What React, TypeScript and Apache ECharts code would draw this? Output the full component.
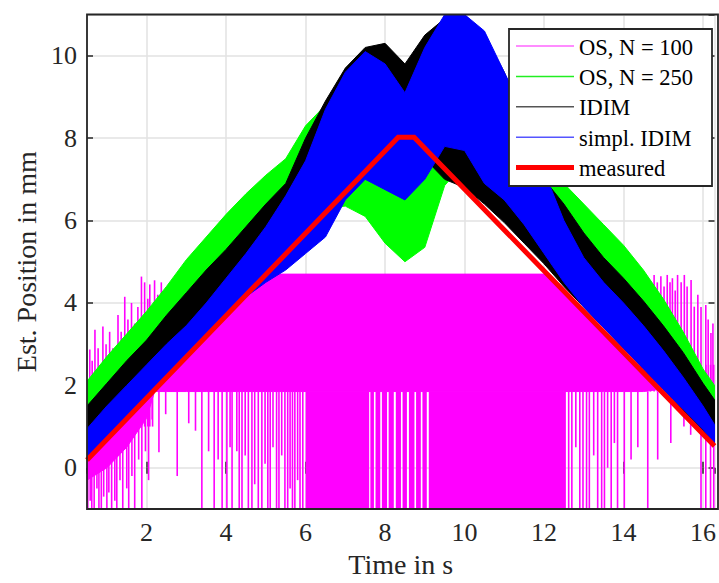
import React, { useEffect, useRef } from "react";
import * as echarts from "echarts";

// ---- sample times for the band envelopes (s)
const bandT = [0.5, 1, 1.5, 2, 2.5, 3, 3.5, 4, 4.5, 5, 5.5, 6, 6.5, 7, 7.5, 8, 8.5, 9, 9.5, 10, 10.5, 11, 11.5, 12, 12.5, 13, 13.5, 14, 14.5, 15, 15.5, 16, 16.29];

// OS, N = 250 (green) envelope
const os250Hi = [2.1, 2.7, 3.25, 3.8, 4.4, 5.05, 5.6, 6.15, 6.65, 7.1, 7.5, 8.3, 8.8, 9.2, 9.3, 9.0, 8.8, 9.0, 9.3, 9.2, 8.8, 8.4, 7.9, 7.4, 6.9, 6.4, 5.9, 5.4, 4.8, 4.1, 3.3, 2.4, 2.0];
const os250Lo = [0.95, 1.5, 2.0, 2.5, 3.0, 3.5, 4.0, 4.5, 5.0, 5.5, 6.0, 6.4, 6.3, 6.35, 6.1, 5.45, 5.0, 5.35, 6.85, 7.4, 7.2, 6.7, 6.2, 5.7, 5.2, 4.7, 4.2, 3.7, 3.2, 2.7, 2.2, 1.6, 1.3];

// IDIM (black) envelope
const idimHi = [1.5, 2.05, 2.6, 3.1, 3.7, 4.25, 4.8, 5.3, 5.85, 6.4, 6.9, 8.0, 8.9, 9.7, 10.2, 10.3, 9.8, 10.5, 10.9, 11.0, 10.5, 9.6, 8.4, 7.0, 6.4, 5.7, 5.1, 4.6, 4.05, 3.45, 2.8, 2.05, 1.65];
const idimLo = [0.25, 0.8, 1.3, 1.8, 2.3, 2.8, 3.3, 3.8, 4.3, 4.8, 5.3, 5.8, 6.3, 6.7, 7.2, 7.5, 7.6, 7.5, 7.0, 6.8, 6.4, 5.95, 5.45, 4.95, 4.4, 3.9, 3.4, 2.9, 2.4, 1.9, 1.4, 0.9, 0.58];

// simpl. IDIM (blue) envelope
const simplHi = [0.95, 1.5, 2.0, 2.5, 3.0, 3.45, 4.0, 4.6, 5.2, 5.85, 6.6, 7.45, 8.7, 9.6, 10.1, 9.8, 9.1, 10.2, 11.0, 11.0, 10.6, 9.6, 8.6, 7.2, 6.0, 5.1, 4.5, 4.0, 3.45, 2.85, 2.2, 1.5, 1.05];
const simplLo = [0.2, 0.7, 1.2, 1.7, 2.2, 2.7, 3.2, 3.7, 4.15, 4.5, 4.8, 5.2, 5.6, 6.5, 7.0, 6.75, 6.5, 7.0, 7.8, 7.7, 6.9, 6.5, 5.9, 5.2, 4.5, 3.9, 3.4, 2.9, 2.4, 1.9, 1.42, 0.93, 0.6];

// measured (red)
const measuredT = [0.5, 8.33, 8.73, 16.29];
const measuredV = [0.19, 8.02, 8.02, 0.53];

// OS, N = 100 (magenta): solid core
const os100CoreT = [0.5, 1.0, 1.5, 2.0, 2.2, 2.5, 3.0, 3.5, 4.0, 4.5, 5.0, 5.2, 12.1, 12.5, 13.0, 13.5, 14.0, 14.5, 14.9];
const os100CoreLo = [-0.3, 0.0, 0.5, 1.2, 1.85, 1.85, 1.85, 1.85, 1.85, 1.85, 1.85, 1.85, 1.85, 1.85, 1.85, 1.85, 1.85, 1.85, 1.9];
const os100CoreHi = [0.5, 1.0, 1.5, 2.0, 2.2, 2.4, 2.8, 3.3, 3.8, 4.3, 4.7, 4.7, 4.7, 4.35, 3.85, 3.35, 2.85, 2.35, 1.95];
// dense downward blocks (solid down to the bottom)
const os100DenseFrom = [6.0, 7.63, 7.76, 7.92, 8.09, 8.27, 8.44, 8.6, 8.78, 8.94, 9.1];
const os100DenseTo = [7.6, 7.72, 7.88, 8.05, 8.22, 8.4, 8.55, 8.74, 8.9, 9.05, 12.55];
const os100DenseTop = [1.85, 1.85, 1.85, 1.85, 1.85, 1.85, 1.85, 1.85, 1.85, 1.85, 1.85];
// individual spikes
const os100SpikeT = [
  0.57, 0.63, 0.7, 0.78, 0.9, 0.98, 1.07, 1.15, 1.28, 1.36, 1.45, 1.53, 1.62, 1.7, 1.78, 1.87, 1.95, 2.03, 2.08, 2.15, 2.2, 2.28, 2.37, 2.45, 2.49, 2.56, 2.62, 2.7,
  14.45, 14.6, 14.68, 14.77, 14.85, 14.94, 15.02, 15.1, 15.17, 15.23, 15.3, 15.36, 15.45, 15.53, 15.6, 15.7, 15.78, 15.87, 15.95, 16.07, 16.13, 16.2, 16.25,
  0.52, 0.58, 0.62, 0.68, 0.75, 0.8, 0.86, 0.92, 1.0, 1.05, 1.12, 1.2, 1.25, 1.33, 1.4, 1.5, 1.55, 1.63, 1.7, 1.8, 1.88, 1.97, 2.05,
  2.14, 2.31, 2.48, 2.77, 3.06, 3.23, 3.39, 3.56, 3.7, 3.8, 3.9, 4.02, 4.1, 4.15, 4.27, 4.33, 4.4, 4.48, 4.56, 4.65, 4.72, 4.81, 4.9, 4.98, 5.05, 5.11, 5.18, 5.27, 5.33, 5.4, 5.48, 5.55, 5.61, 5.67, 5.73, 5.8, 5.86, 5.93,
  12.62, 12.7, 12.8, 12.9, 12.98, 13.07, 13.14, 13.25, 13.35, 13.45, 13.52, 13.6, 13.69, 13.77, 13.85, 14.02, 14.19, 14.36, 14.61, 14.86, 15.19, 15.52, 15.69, 15.95, 16.07, 16.19, 16.27
];
const os100SpikeFrom = [
  1.0, 1.0, 1.0, 1.0, 1.0, 1.0, 1.0, 1.0, 1.0, 1.0, 1.0, 1.0, 1.0, 1.0, 1.0, 1.0, 1.0, 1.0, 1.0, 1.0, 1.85, 1.85, 1.85, 1.85, 1.85, 1.85, 1.85, 1.85,
  1.85, 1.85, 1.85, 1.85, 1.85, 1.85, 1.85, 1.85, 1.85, 1.85, 1.85, 1.85, 1.85, 1.85, 1.85, 1.85, 1.85, 1.85, 1.85, 1.85, 1.85, 1.85, 1.85,
  0.0, 0.0, 0.0, 0.2, 0.2, 0.2, 0.3, 0.3, 0.4, 0.4, 0.5, 0.6, 0.6, 0.7, 0.8, 0.9, 1.0, 1.0, 1.1, 1.2, 1.3, 1.4, 1.5,
  1.85, 1.85, 1.85, 1.85, 1.85, 1.85, 1.85, 1.85, 1.85, 1.85, 1.85, 1.85, 1.85, 1.85, 1.85, 1.85, 1.85, 1.85, 1.85, 1.85, 1.85, 1.85, 1.85, 1.85, 1.85, 1.85, 1.85, 1.85, 1.85, 1.85, 1.85, 1.85, 1.85, 1.85, 1.85, 1.85, 1.85, 1.85,
  1.85, 1.85, 1.85, 1.85, 1.85, 1.85, 1.85, 1.85, 1.85, 1.85, 1.85, 1.85, 1.85, 1.85, 1.85, 1.85, 1.85, 1.85, 1.85, 1.85, 2.5, 2.5, 2.5, 2.5, 2.5, 2.5, 2.5
];
const os100SpikeTo = [
  2.87, 2.6, 3.35, 2.9, 3.43, 3.0, 3.3, 2.9, 3.71, 3.3, 4.15, 3.6, 4.0, 3.5, 3.9, 4.64, 4.5, 4.1, 4.45, 3.9, 4.55, 4.2, 4.5, 4.0, 4.2, 4.3, 4.5, 4.4,
  4.3, 4.56, 4.4, 4.68, 4.5, 4.65, 4.4, 4.68, 4.5, 4.6, 4.3, 4.68, 4.5, 4.68, 4.4, 4.56, 3.91, 4.2, 3.9, 3.95, 3.6, 3.27, 3.5,
  -1, -0.8, -1, -1, -0.5, -1, -1, -0.7, -1, -0.6, -1, -0.8, -1, -0.3, -1, -0.5, -1, -0.2, -1, 0.2, -1, 0.4, -0.3,
  1.17, 0.38, 1.3, -0.2, 1.08, 0.9, -1, 0.4, -1, 0.2, -1, -1, 0.5, -1, 0.4, -1, -1, 0.3, -1, -1, -0.4, -1, -1, 0.1, -1, -1, 0.5, -1, -1, 0.3, -1, -1, -0.5, -1, -1, -0.3, -1, -1,
  -1, -1, 0.5, -1, -1, -1, -1, 0.3, -1, -1, -1, 0.0, -1, 0.6, -1, -1, 0.2, 0.5, -1, 0.2, 0.6, 1.0, 0.8, -1, -1, -1, -1
];

const FONT = '"Liberation Serif", "Times New Roman", serif';
const X_MIN = 0.5, X_MAX = 16.29, Y_MIN = -1, Y_MAX = 11;
const GRID = { left: 87, right: 1, top: 14.5, bottom: 74 };

function bandSeries(name: string, color: string, t: number[], lo: number[], hi: number[]) {
  return {
    type: "custom",
    name,
    clip: true,
    silent: true,
    data: [[t[0], lo[0]]],
    renderItem: (_p: any, api: any) => {
      const pts: number[][] = [];
      for (let i = 0; i < t.length; i++) pts.push(api.coord([t[i], hi[i]]));
      for (let i = t.length - 1; i >= 0; i--) pts.push(api.coord([t[i], lo[i]]));
      return { type: "polygon", shape: { points: pts }, style: { fill: color, stroke: color, lineWidth: 1 } };
    },
  };
}

export default function App() {
  const ref = useRef<HTMLDivElement>(null);
  useEffect(() => {
    if (!ref.current) return;
    const chart = echarts.init(ref.current, undefined, { renderer: "svg" });
    const denseData = os100DenseFrom.map((f, i) => [f, os100DenseTo[i], os100DenseTop[i]]);
    const spikeData = os100SpikeT.map((t, i) => [t, os100SpikeFrom[i], os100SpikeTo[i]]);
    const legendRows = [
      { label: "OS, N = 100", color: "#ff66ff", w: 1.5 },
      { label: "OS, N = 250", color: "#22ee22", w: 1.5 },
      { label: "IDIM", color: "#555555", w: 1.5 },
      { label: "simpl. IDIM", color: "#5555ff", w: 1.5 },
      { label: "measured", color: "#ff0000", w: 5 },
    ];
    const legendEls: any[] = [
      { type: "rect", z: 200, shape: { x: 509, y: 29, width: 203, height: 157 }, style: { fill: "#ffffff", stroke: "#262626", lineWidth: 1.8 } },
    ];
    legendRows.forEach((r, i) => {
      const y = 46 + i * 30.4;
      legendEls.push({ type: "line", z: 201, shape: { x1: 516, y1: y, x2: 574, y2: y }, style: { stroke: r.color, lineWidth: r.w } });
      legendEls.push({ type: "text", z: 201, x: 579, y: y + 1, style: { text: r.label, font: `22.5px ${FONT}`, fill: "#000000", verticalAlign: "middle", align: "left" } });
    });

    const tickStyle = { show: true, inside: true, length: 6, lineStyle: { color: "#262626", width: 1.5 } };
    const option: any = {
      animation: false,
      grid: GRID,
      xAxis: [
        {
          type: "value", min: X_MIN, max: X_MAX, splitNumber: 8, minInterval: 2, maxInterval: 2, position: "bottom",
          axisLine: { show: false }, axisTick: tickStyle,
          axisLabel: { showMinLabel: false, showMaxLabel: false, margin: 10, fontFamily: FONT, fontSize: 26, color: "#262626" },
          splitLine: { show: true, lineStyle: { color: "#e2e2e2", width: 1.5 } },
          name: "Time in s", nameLocation: "middle", nameGap: 41,
          nameTextStyle: { fontFamily: FONT, fontSize: 28, color: "#262626" },
        },
        {
          type: "value", min: X_MIN, max: X_MAX, splitNumber: 8, minInterval: 2, maxInterval: 2, position: "top",
          axisLine: { show: false }, axisTick: tickStyle, axisLabel: { show: false }, splitLine: { show: false },
        },
      ],
      yAxis: [
        {
          type: "value", min: Y_MIN, max: Y_MAX, splitNumber: 6, minInterval: 2, maxInterval: 2, position: "left",
          axisLine: { show: false }, axisTick: tickStyle,
          axisLabel: { showMinLabel: false, showMaxLabel: false, margin: 10, fontFamily: FONT, fontSize: 26, color: "#262626" },
          splitLine: { show: true, lineStyle: { color: "#e2e2e2", width: 1.5 } },
          name: "Est. Position in mm", nameLocation: "middle", nameGap: 44, nameRotate: 90,
          nameTextStyle: { fontFamily: FONT, fontSize: 28, color: "#262626" },
        },
        {
          type: "value", min: Y_MIN, max: Y_MAX, splitNumber: 6, minInterval: 2, maxInterval: 2, position: "right",
          axisLine: { show: false }, axisTick: tickStyle, axisLabel: { show: false }, splitLine: { show: false },
        },
      ],
      series: [
        bandSeries("OS, N = 100", "#ff00ff", os100CoreT, os100CoreLo, os100CoreHi),
        {
          type: "custom", name: "OS, N = 100 dense", clip: true, silent: true, data: denseData,
          renderItem: (_p: any, api: any) => {
            const a = api.coord([api.value(0), api.value(2)]);
            const b = api.coord([api.value(1), Y_MIN]);
            return { type: "rect", shape: { x: a[0], y: a[1], width: b[0] - a[0], height: b[1] - a[1] }, style: { fill: "#ff00ff" } };
          },
        },
        {
          type: "custom", name: "OS, N = 100 spikes", clip: true, silent: true, data: spikeData,
          renderItem: (_p: any, api: any) => {
            const a = api.coord([api.value(0), api.value(1)]);
            const b = api.coord([api.value(0), api.value(2)]);
            return { type: "line", shape: { x1: a[0], y1: a[1], x2: b[0], y2: b[1] }, style: { stroke: "#ff00ff", lineWidth: 1.6 } };
          },
        },
        bandSeries("OS, N = 250", "#00ff00", bandT, os250Lo, os250Hi),
        bandSeries("IDIM", "#000000", bandT, idimLo, idimHi),
        bandSeries("simpl. IDIM", "#0000ff", bandT, simplLo, simplHi),
        {
          type: "line", name: "measured", data: measuredT.map((t, i) => [t, measuredV[i]]),
          showSymbol: false, symbol: "none", clip: true, silent: true,
          lineStyle: { color: "#ff0000", width: 5, join: "miter" },
        },
      ],
      graphic: [
        {
          type: "rect", z: 100, silent: true,
          shape: { x: GRID.left, y: GRID.top, width: 719 - GRID.left - GRID.right, height: 583 - GRID.top - GRID.bottom },
          style: { fill: "none", stroke: "#262626", lineWidth: 1.8 },
        },
        { type: "group", z: 200, children: legendEls },
      ],
    };
    chart.setOption(option);
    return () => chart.dispose();
  }, []);
  return <div ref={ref} style={{ position: "absolute", left: 0, top: 0, width: 719, height: 583, background: "#ffffff" }} />;
}
